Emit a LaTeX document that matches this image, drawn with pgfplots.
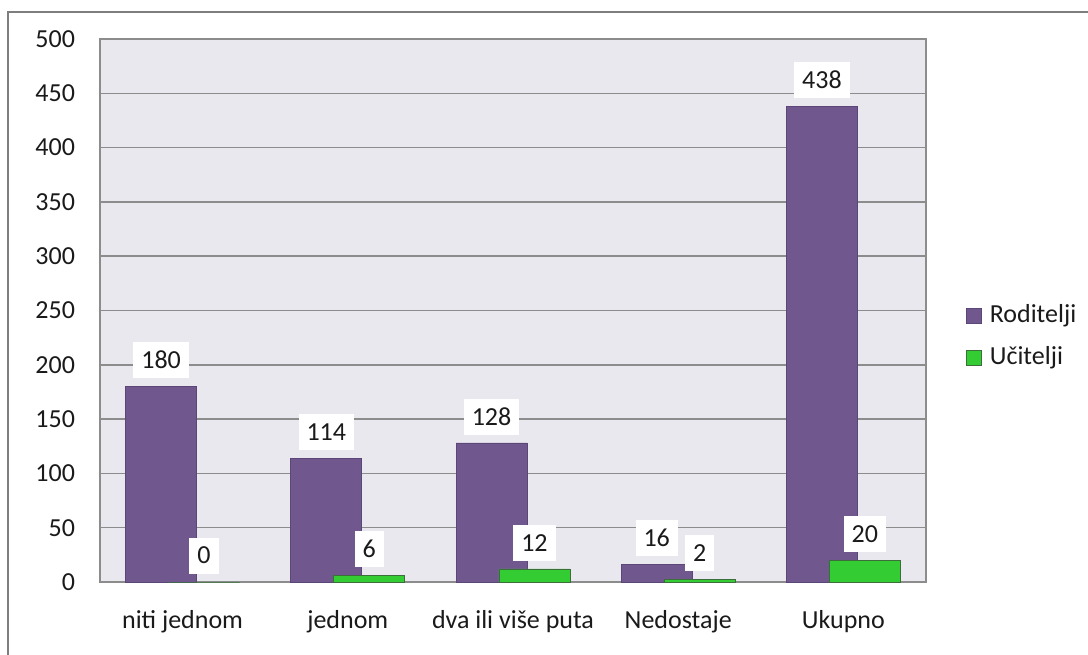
\documentclass[border=0pt]{standalone}
\usepackage{pgfplots}
\pgfplotsset{compat=1.18}
\usepackage{fontspec}
\setmainfont{Carlito}
\definecolor{rodcol}{RGB}{112,88,142}
\definecolor{rodedge}{RGB}{92,70,120}
\definecolor{ucicol}{RGB}{51,204,51}
\definecolor{uciedge}{RGB}{60,110,60}
\definecolor{plotbg}{RGB}{234,232,239}
\definecolor{gridcol}{RGB}{140,140,140}
\definecolor{txt}{RGB}{26,26,26}
\pgfplotsset{/pgf/number format/assume math mode=true}

\begin{document}
\fontsize{13}{15}\selectfont
\begin{tikzpicture}
  \path[use as bounding box] (-50pt,-36pt) rectangle (494pt,291pt);
  \draw[gridcol!90!black, line width=1pt] (-46pt,-40pt) -- (-46pt,285pt) -- (500pt,285pt);
  \begin{axis}[
      scale only axis,
      width=413pt, height=271.5pt,
      ybar,
      bar width=0.43,
      xmin=-0.5, xmax=4.5,
      ymin=0, ymax=500,
      ytick distance=50,
      xtick={0,1,2,3,4},
      xticklabels={niti jednom, jednom, dva ili više puta, Nedostaje, Ukupno},
      major tick length=0pt,
      ymajorgrids,
      grid style={gridcol, line width=0.75pt},
      axis line style={gridcol, line width=0.75pt},
      axis background/.style={fill=plotbg},
      tick label style={text=txt, font=\fontsize{13}{15}\selectfont},
      xticklabel style={yshift=-9.5pt},
      yticklabel style={xshift=-8pt},
      nodes near coords,
      nodes near coords style={fill=white, text=txt, anchor=south, yshift=4pt,
        inner xsep=4pt, minimum height=18pt, font=\fontsize{13}{15}\selectfont},
      legend image code/.code={\draw[#1] (0pt,-3.75pt) rectangle (7.5pt,3.75pt);},
      legend style={draw=none, fill=none, at={(1.048,0.452)}, anchor=west,
        font=\fontsize{13}{15}\selectfont, text=txt, row sep=6pt, inner xsep=0pt,
        /tikz/every even column/.append style={column sep=0pt},
        /tikz/every odd column/.append style={column sep=2pt}},
      legend cell align=left,
    ]
    \addplot[fill=rodcol, draw=rodedge, bar shift=-0.13] coordinates {
      (0,180) (1,114) (2,128) (3,16) (4,438)
    };
    \addplot[fill=ucicol, draw=uciedge, bar shift=0.13] coordinates {
      (0,0) (1,6) (2,12) (3,2) (4,20)
    };
    \legend{Roditelji, Učitelji}
  \end{axis}
\end{tikzpicture}
\end{document}
